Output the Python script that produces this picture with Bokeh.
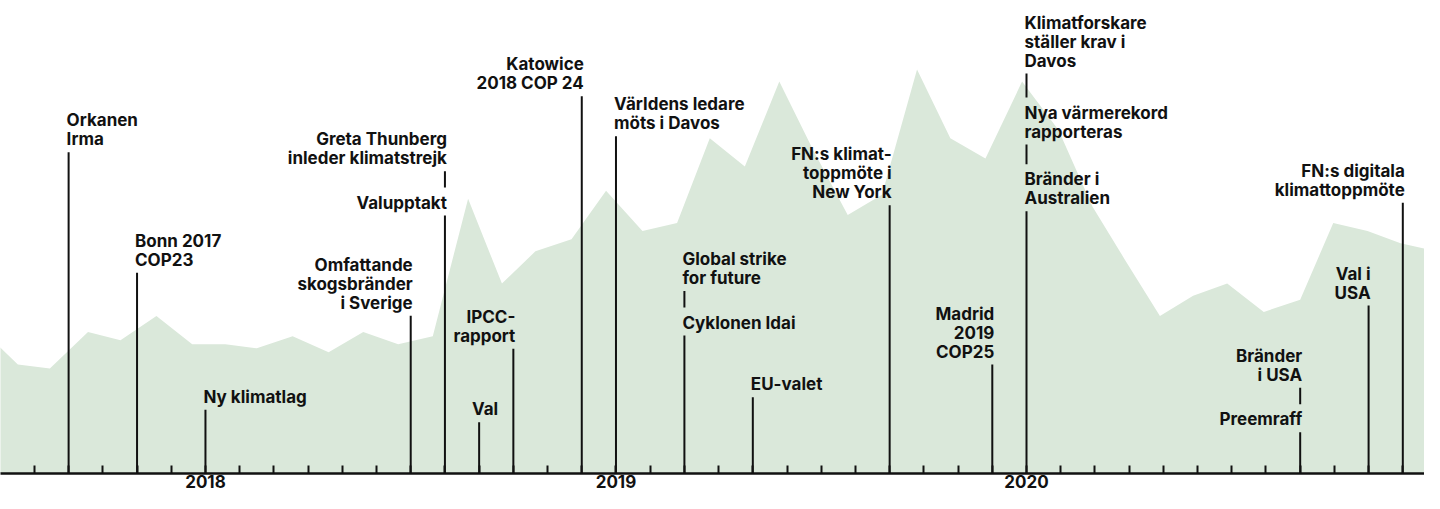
import calendar
from bokeh.plotting import figure
from bokeh.models import Range1d, FixedTicker, LinearAxis, ColumnDataSource
from bokeh.core.properties import value
from bokeh.embed import file_html
from bokeh.resources import INLINE

# ---------------- data ----------------
START_YEAR, START_MONTH = 2017, 7   # month index 0 = July 2017

area_dates = [
    "2017-06-17", "2017-07-17", "2017-08-15", "2017-09-18", "2017-10-17", "2017-11-18",
    "2017-12-20", "2018-01-19", "2018-02-15", "2018-03-18", "2018-04-19", "2018-05-20",
    "2018-06-20", "2018-07-21", "2018-08-22", "2018-09-21", "2018-10-21", "2018-11-22",
    "2018-12-23", "2019-01-25", "2019-02-23", "2019-03-24", "2019-04-24", "2019-05-25",
    "2019-06-24", "2019-07-25", "2019-08-25", "2019-09-25", "2019-10-25", "2019-11-25",
    "2019-12-28", "2020-01-30", "2020-02-28", "2020-03-28", "2020-04-28", "2020-05-28",
    "2020-06-27", "2020-07-30", "2020-09-01", "2020-09-30", "2020-10-31", "2020-11-29",
    "2021-01-01",
]
area_values = [
    35, 27, 26, 35, 33, 39,
    32, 32, 31, 34, 30, 35,
    32, 34, 68, 47, 55, 58,
    70, 60, 62, 83, 76, 97,
    80, 64, 69, 100, 83, 78,
    97, 85, 66, 53, 39, 44,
    47, 40, 43, 62, 60, 57,
    55,
]

tick_months = [f"{2017 + (7 + i - 1) // 12}-{(7 + i - 1) % 12 + 1:02d}" for i in range(43)]
year_tick_dates = ["2018-01", "2019-01", "2020-01"]
year_labels = ["2018", "2019", "2020"]

event_dates = ["2017-09", "2017-11", "2018-01", "2018-07", "2018-08", "2018-09",
               "2018-10", "2018-12", "2019-01", "2019-03", "2019-05", "2019-09",
               "2019-12", "2020-01", "2020-09", "2020-11", "2020-12"]
event_texts = [
    ["Orkanen\nIrma"],
    ["Bonn 2017\nCOP23"],
    ["Ny klimatlag"],
    ["Omfattande\nskogsbränder\ni Sverige"],
    ["Greta Thunberg\ninleder klimatstrejk", "Valupptakt"],
    ["Val"],
    ["IPCC-\nrapport"],
    ["Katowice\n2018 COP 24"],
    ["Världens ledare\nmöts i Davos"],
    ["Global strike\nfor future", "Cyklonen Idai"],
    ["EU-valet"],
    ["FN:s klimat-\ntoppmöte i\nNew York"],
    ["Madrid\n2019\nCOP25"],
    ["Klimatforskare\nställer krav i\nDavos", "Nya värmerekord\nrapporteras", "Bränder i\nAustralien"],
    ["Bränder\ni USA", "Preemraff"],
    ["Val i\nUSA"],
    ["FN:s digitala\nklimattoppmöte"],
]

# ---------------- layout (pixels) ----------------
label_align = ["left", "left", "left", "right", "right", "center", "right", "right", "left",
               "left", "left", "right", "right", "left", "right", "right", "right"]
label_dx = [-2, -2, -2, 2, 2, 6, 2, 2, -2, -2, -2, 2, 2, -2, 2, 2, 2]
# cap-top of each text block, in px measured from the top of the chart
label_tops = [[112.7], [233.3], [389.3], [257.3], [131.7, 195.0], [401.7], [309.3], [56.7],
              [96.7], [251.5, 315.0], [376.7], [146.7], [306.0], [15.0, 105.0, 171.7],
              [348.3, 411.7], [266.0], [163.3]]

AXIS_Y = 473.0        # axis position from top of chart (px)
FRAME_W, FRAME_H = 1424, int(AXIS_Y)
PX_PER_MONTH = 34.21
PX_PER_UNIT = 4.04
CAP, LINE_H, GAP = 12.0, 19.0, 8.0
TEXT_FIX = 5.0        # baseline correction of the svg text renderer


def month_pos(s):
    parts = [int(v) for v in s.split("-")]
    y, m = parts[0], parts[1]
    d = parts[2] if len(parts) > 2 else 1
    dim = calendar.monthrange(y, m)[1]
    return (y - START_YEAR) * 12 + (m - START_MONTH) + (d - 1) / dim


x_start = 0.3 / PX_PER_MONTH
x_end = x_start + FRAME_W / PX_PER_MONTH

p = figure(frame_width=FRAME_W, frame_height=FRAME_H,
           x_range=Range1d(x_start, x_end),
           y_range=Range1d(0, FRAME_H / PX_PER_UNIT),
           x_axis_type=None, y_axis_type=None,
           output_backend="svg", toolbar_location=None,
           min_border_left=0, min_border_right=0, min_border_top=0, min_border_bottom=20)
p.extra_y_ranges = {"px": Range1d(0, FRAME_H)}
p.outline_line_color = None
p.xgrid.visible = False
p.ygrid.visible = False
p.background_fill_color = "white"
p.border_fill_color = "white"

# area
ax_x = [month_pos(d) for d in area_dates]
p.varea(x=ax_x, y1=[0] * len(ax_x), y2=area_values, fill_color="#dae8da")

# events
seg_x, seg_y0, seg_y1 = [], [], []
groups = {a: {"x": [], "y": [], "t": [], "dx": []} for a in ("left", "right", "center")}
for date, blocks, align, dx, tops in zip(event_dates, event_texts, label_align, label_dx, label_tops):
    xm = month_pos(date)
    for j, (blk, top) in enumerate(zip(blocks, tops)):
        lines = blk.split("\n")
        for i, ln in enumerate(lines):
            base = top + CAP + LINE_H * i
            groups[align]["x"].append(xm)
            groups[align]["y"].append(AXIS_Y - base + TEXT_FIX)
            groups[align]["t"].append(ln)
            groups[align]["dx"].append(dx)
        last_base = top + CAP + LINE_H * (len(lines) - 1)
        seg_top = last_base + GAP
        seg_bot = tops[j + 1] - GAP if j + 1 < len(tops) else AXIS_Y
        seg_x.append(xm)
        seg_y0.append(AXIS_Y - seg_bot)
        seg_y1.append(AXIS_Y - seg_top)

p.segment(x0=seg_x, y0=seg_y0, x1=seg_x, y1=seg_y1, line_color="#111111",
          line_width=2, y_range_name="px")

for a, g in groups.items():
    if not g["x"]:
        continue
    src = ColumnDataSource(dict(x=g["x"], y=g["y"], text=g["t"], dx=g["dx"]))
    p.text(x="x", y="y", text="text", source=src, y_range_name="px",
           text_align=a, text_baseline="alphabetic", x_offset="dx",
           text_font=value("Inter"), text_font_style="bold", text_font_size="17px",
           text_color="#111111")

# axis
tick_pos = [month_pos(t) for t in tick_months]
overrides = {i: "" for i in range(len(tick_pos))}
for d, lab in zip(year_tick_dates, year_labels):
    overrides[int(round(month_pos(d)))] = lab
axis = LinearAxis(ticker=FixedTicker(ticks=tick_pos, minor_ticks=[]),
                  major_label_overrides=overrides)
axis.axis_line_width = 2.5
axis.axis_line_color = "#111111"
axis.major_tick_in = 8
axis.major_tick_out = 0
axis.major_tick_line_width = 2
axis.major_tick_line_color = "#111111"
axis.minor_tick_line_color = None
axis.major_label_text_font = "Inter"
axis.major_label_text_font_style = "bold"
axis.major_label_text_font_size = "17px"
axis.major_label_text_color = "#111111"
axis.major_label_standoff = 1
p.add_layout(axis, "below")

open("out.html", "w").write(file_html(p, INLINE))
